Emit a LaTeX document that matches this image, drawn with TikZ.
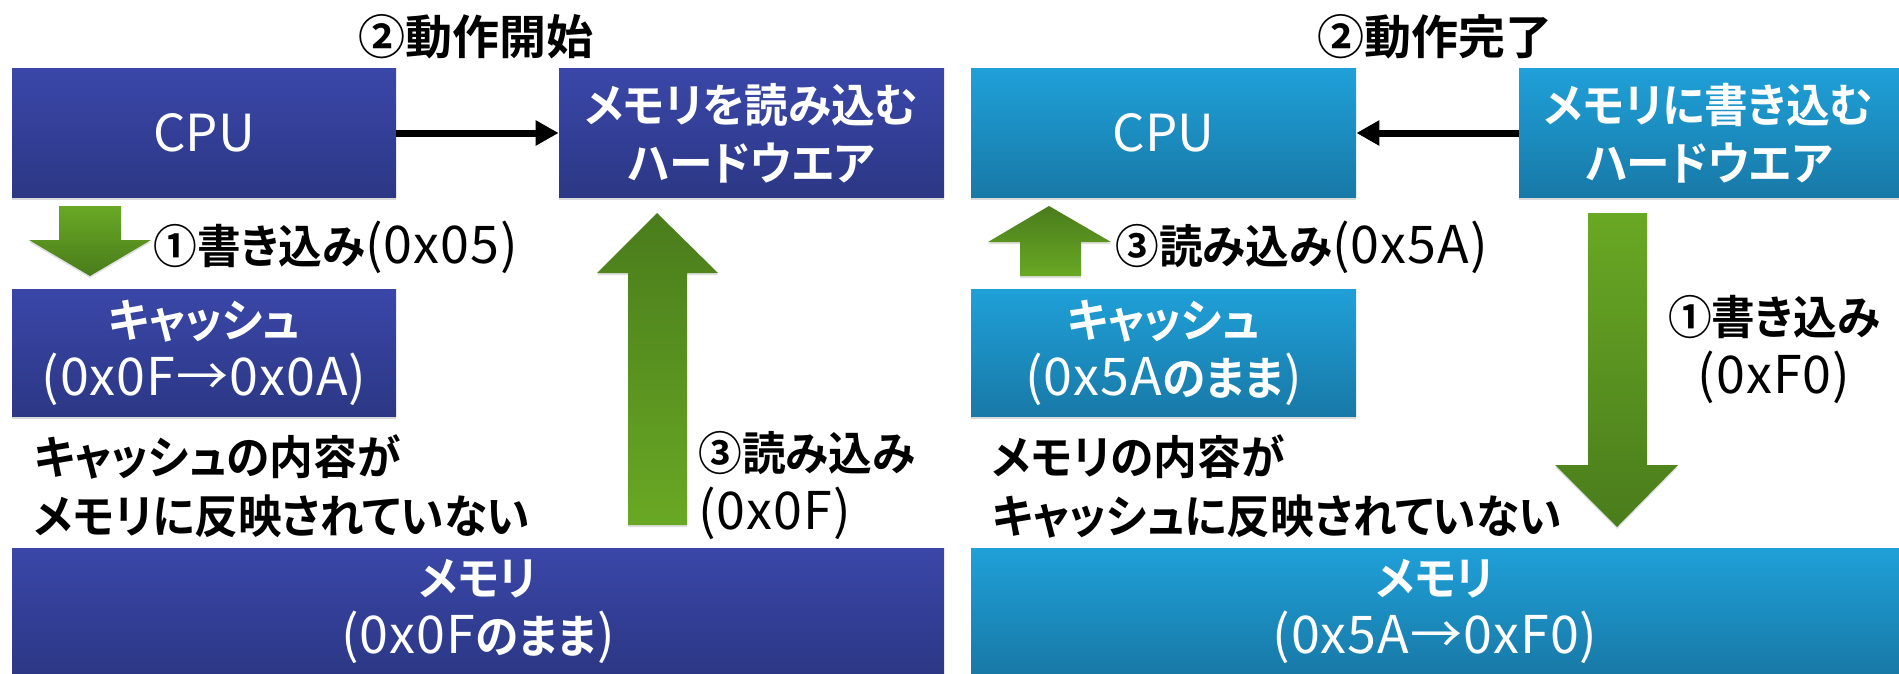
\documentclass[tikz,border=0pt]{standalone}
\usepackage{fontspec}
\setmainfont{Noto Sans CJK JP}
\newfontfamily\jr{Noto Sans CJK JP}[LetterSpace=2]
\newfontfamily\jb{Noto Sans CJK JP Bold}[RawFeature=+palt, FakeStretch=0.95]
\newfontfamily\jt{Noto Sans CJK JP Bold}
\newcommand\latn[1]{{\jr\fontsize{26}{29}\selectfont #1}}
\usetikzlibrary{shadows,arrows.meta}
\definecolor{lT}{HTML}{3A47A8}
\definecolor{lB}{HTML}{2C3785}
\definecolor{rT}{HTML}{1FA0D8}
\definecolor{rB}{HTML}{1879A7}
\definecolor{gL}{HTML}{69A824}
\definecolor{gD}{HTML}{4A7C1C}
\tikzset{
  box/.style={rectangle, inner sep=0pt, text=white, align=center,
    font=\jb\fontsize{23}{29}\selectfont,
    drop shadow={shadow xshift=0pt, shadow yshift=-1.5pt, opacity=0.3}},
  boxL/.style={box, top color=lT, bottom color=lB},
  boxR/.style={box, top color=rT, bottom color=rB},
  blk/.style={line width=3.5pt, -{Triangle[length=11.5pt,width=12pt]}},
  lbl/.style={inner sep=0pt, text=black, font=\jb\fontsize{23}{29.5}\selectfont},
  ttl/.style={inner sep=0pt, text=black, font=\jt\fontsize{23.5}{30}\selectfont},
  gdown/.style={top color=gL, bottom color=gD, drop shadow={shadow xshift=0pt, shadow yshift=-1pt, opacity=0.25}},
  gup/.style={top color=gD, bottom color=gL, drop shadow={shadow xshift=0pt, shadow yshift=-1pt, opacity=0.25}}
}
\begin{document}
\begin{tikzpicture}[x=0.5pt,y=-0.5pt]
\useasboundingbox (0,0) rectangle (1899,674);
% ---- left panel ----
\node[boxL, minimum width=192pt, minimum height=64pt] (cpuL) at (204,133) {{\rmfamily\fontsize{25.5}{29}\selectfont CPU}};
\node[boxL, minimum width=192.5pt, minimum height=64pt] (hwL) at (751.5,133) {メモリを読み込む\\ハードウエア};
\node[boxL, minimum width=192pt, minimum height=63.5pt] (cacheL) at (204,352.5) {キャッシュ\\\latn{(0x0F→0x0A)}};
\node[boxL, minimum width=466pt, minimum height=63pt] (memL) at (478,611) {メモリ\\\latn{(0x0F}のまま\latn{)}};
\draw[blk] (cpuL.east) -- (hwL.west);
\shade[gdown] (59,206) -- (121,206) -- (121,240) -- (151,240) -- (90,276) -- (29,240) -- (59,240) -- cycle;
\shade[gup] (657,213) -- (718,273) -- (687,273) -- (687,525) -- (628,525) -- (628,273) -- (597,273) -- cycle;
\node[ttl] (titleL) at (476,37) {②動作開始};
\node[lbl, anchor=west] (wrL) at (153,247) {①書き込み\latn{(0x05)}};
\node[lbl, anchor=west, align=left] (noteL) at (34,486.5) {キャッシュの内容が\\メモリに反映されていない};
\node[lbl, anchor=west, align=left] (rdL) at (698,485.5) {③読み込み\\\latn{(0x0F)}};
% ---- right panel ----
\node[boxR, minimum width=192.5pt, minimum height=64pt] (cpuR) at (1163.5,133) {{\rmfamily\fontsize{25.5}{29}\selectfont CPU}};
\node[boxR, minimum width=190pt, minimum height=64pt] (hwR) at (1709,133) {メモリに書き込む\\ハードウエア};
\node[boxR, minimum width=192.5pt, minimum height=63.5pt] (cacheR) at (1163.5,352.5) {キャッシュ\\\latn{(0x5A}のまま\latn{)}};
\node[boxR, minimum width=464pt, minimum height=63pt] (memR) at (1435,611) {メモリ\\\latn{(0x5A→0xF0)}};
\draw[blk] (hwR.west) -- (cpuR.east);
\shade[gup] (1049,206) -- (1111,242) -- (1081,242) -- (1081,276) -- (1020,276) -- (1020,242) -- (988,242) -- cycle;
\shade[gdown] (1588,213) -- (1647,213) -- (1647,465) -- (1678,465) -- (1617,527) -- (1555,465) -- (1588,465) -- cycle;
\node[ttl] (titleR) at (1435,37) {②動作完了};
\node[lbl, anchor=west] (rdR) at (1115,247) {③読み込み\latn{(0x5A)}};
\node[lbl, align=center] (wrR) at (1774,349) {①書き込み\\\latn{(0xF0)}};
\node[lbl, anchor=west, align=left] (noteR) at (992,486.5) {メモリの内容が\\キャッシュに反映されていない};
\end{tikzpicture}
\end{document}
